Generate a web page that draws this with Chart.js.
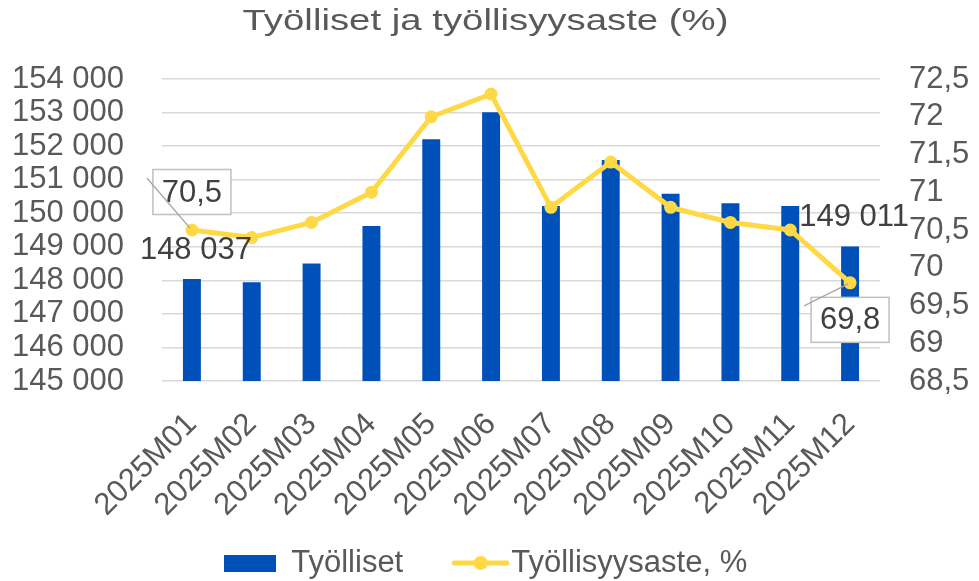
<!DOCTYPE html>
<html><head><meta charset="utf-8">
<script src="https://cdn.jsdelivr.net/npm/chart.js@4/dist/chart.umd.min.js"></script>
<style>html,body{margin:0;padding:0;background:#fff}#wrap{width:979px;height:581px}</style>
</head><body><div id="wrap"><canvas id="c" width="979" height="581"></canvas></div>
<script>
const categories = ['2025M01','2025M02','2025M03','2025M04','2025M05','2025M06','2025M07','2025M08','2025M09','2025M10','2025M11','2025M12'];
const tyolliset = [148037,147940,148503,149616,152204,153010,150213,151586,150580,150294,150213,149011];
const tyollisyysaste = [70.5,70.4,70.6,71.0,72.0,72.3,70.8,71.4,70.8,70.6,70.5,69.8];
const leftAxis = [145000, 154000, 1000];
const rightAxis = [68.5, 72.5, 0.5];
const seriesNames = ['Työlliset', 'Työllisyysaste, %'];
const titleText = 'Työlliset ja työllisyysaste (%)';
const labeledPoints = [0, 11];

const BLUE = '#0050B9';
const YELLOW = '#FFD945';
const GRAY = '#595959';
const FONT = "'Liberation Sans', Arial, sans-serif";

const fmtThousands = v => Math.round(v).toString().replace(/\B(?=(\d{3})+(?!\d))/g, ' ');
const fmtDecimal = v => (Math.round(v * 10) / 10).toString().replace('.', ',');

function makeSwatch(w, h, draw) {
  const c = document.createElement('canvas');
  c.width = w; c.height = h;
  draw(c.getContext('2d'));
  return c;
}
const barSwatch = makeSwatch(52, 17, g => { g.fillStyle = BLUE; g.fillRect(0, 0, 52, 17); });
const lineSwatch = makeSwatch(79, 16, g => {
  g.strokeStyle = YELLOW; g.lineWidth = 5; g.lineCap = 'round';
  g.beginPath(); g.moveTo(24, 8); g.lineTo(77, 8); g.stroke();
  g.fillStyle = YELLOW; g.beginPath(); g.arc(50.5, 8, 7, 0, Math.PI * 2); g.fill();
});

const stretchTitle = {
  id: 'stretchTitle',
  beforeDraw(chart) {
    const tb = chart.titleBlock;
    if (tb && !tb._wrapped) {
      const orig = tb.draw;
      tb.draw = function (a) {
        const ctx = this.ctx;
        const cx = (this.left + this.right) / 2;
        ctx.save();
        ctx.translate(cx, 0); ctx.scale(1.3, 1); ctx.translate(-cx, 0);
        orig.call(this, a);
        ctx.restore();
      };
      tb._wrapped = true;
    }
  }
};

const dataLabels = {
  id: 'dataLabels',
  afterDatasetsDraw(chart) {
    const ctx = chart.ctx;
    const barMeta = chart.getDatasetMeta(0);
    const lineMeta = chart.getDatasetMeta(1);
    ctx.save();
    ctx.font = '31px ' + FONT;
    ctx.textAlign = 'center';
    ctx.textBaseline = 'middle';
    labeledPoints.forEach(i => {
      const bar = barMeta.data[i];
      ctx.fillStyle = '#404040';
      ctx.fillText(fmtThousands(tyolliset[i]), bar.x + 4, bar.y - 29);
    });
    labeledPoints.forEach((i, k) => {
      const pt = lineMeta.data[i];
      const above = k === 0;
      const cy = above ? pt.y - 38 : pt.y + 37;
      const w = 78, h = 45;
      ctx.fillStyle = '#ffffff';
      ctx.fillRect(pt.x - w / 2, cy - h / 2, w, h);
      ctx.strokeStyle = '#BFBFBF';
      ctx.lineWidth = 1.5;
      ctx.strokeRect(pt.x - w / 2, cy - h / 2, w, h);
      ctx.fillStyle = '#404040';
      ctx.fillText(fmtDecimal(tyollisyysaste[i]), pt.x, cy + 1);
      ctx.strokeStyle = '#A6A6A6';
      ctx.lineWidth = 1.2;
      ctx.beginPath();
      if (above) { ctx.moveTo(pt.x - 45, pt.y - 52); ctx.lineTo(pt.x - 2, pt.y - 2); }
      else { ctx.moveTo(pt.x - 46, pt.y + 23); ctx.lineTo(pt.x - 2, pt.y + 1); }
      ctx.stroke();
    });
    ctx.restore();
  }
};

new Chart(document.getElementById('c'), {
  data: {
    labels: categories,
    datasets: [
      {
        type: 'bar', label: seriesNames[0], data: tyolliset, yAxisID: 'y',
        backgroundColor: BLUE, barPercentage: 0.3, categoryPercentage: 1, order: 2
      },
      {
        type: 'line', label: seriesNames[1], data: tyollisyysaste, yAxisID: 'y1',
        borderColor: YELLOW, backgroundColor: YELLOW, borderWidth: 5, tension: 0,
        pointRadius: 6.5, pointBorderWidth: 0, pointBackgroundColor: YELLOW, order: 1
      }
    ]
  },
  options: {
    responsive: false,
    devicePixelRatio: 1,
    animation: false,
    layout: { padding: { top: 0, left: 0, right: 8, bottom: -7.5 } },
    plugins: {
      tooltip: { enabled: false },
      title: {
        display: true, text: titleText, color: GRAY,
        font: { family: FONT, size: 29.5, weight: 'normal', lineHeight: 1.2 },
        padding: { top: 4, bottom: 39.6 }
      },
      legend: {
        position: 'bottom',
        labels: {
          usePointStyle: true, pointStyleWidth: 52, padding: 40.5,
          color: GRAY, font: { family: FONT, size: 31 },
          generateLabels: () => [
            { text: seriesNames[0], pointStyle: barSwatch, fillStyle: BLUE, strokeStyle: BLUE, lineWidth: 0, fontColor: GRAY, datasetIndex: 0, hidden: false },
            { text: seriesNames[1], pointStyle: lineSwatch, fillStyle: YELLOW, strokeStyle: YELLOW, lineWidth: 0, fontColor: GRAY, datasetIndex: 1, hidden: false }
          ]
        }
      }
    },
    scales: {
      x: {
        grid: { display: false, drawTicks: false },
        border: { display: false },
        ticks: { color: GRAY, font: { family: FONT, size: 31 }, minRotation: 45, maxRotation: 45, autoSkip: false, padding: 25 },
        afterFit: s => {
          s.height = 126;
          s._computeLabelArea = () => ({ top: s.top, left: 0, bottom: s.chart.height, right: s.chart.width });
        }
      },
      y: {
        position: 'left', min: leftAxis[0], max: leftAxis[1],
        grid: { color: '#D9D9D9', lineWidth: 1.5, drawTicks: false },
        border: { display: false },
        ticks: { stepSize: leftAxis[2], autoSkip: false, color: GRAY, font: { family: FONT, size: 31 }, padding: 38, callback: v => fmtThousands(v) },
        afterFit: s => { s.width = 162; }
      },
      y1: {
        position: 'right', min: rightAxis[0], max: rightAxis[1],
        grid: { display: false, drawTicks: false },
        border: { display: false },
        ticks: { stepSize: rightAxis[2], autoSkip: false, color: GRAY, font: { family: FONT, size: 31 }, padding: 29, callback: v => fmtDecimal(v) },
        afterFit: s => { s.width = 91; }
      }
    }
  },
  plugins: [stretchTitle, dataLabels]
});
</script>
</body></html>
